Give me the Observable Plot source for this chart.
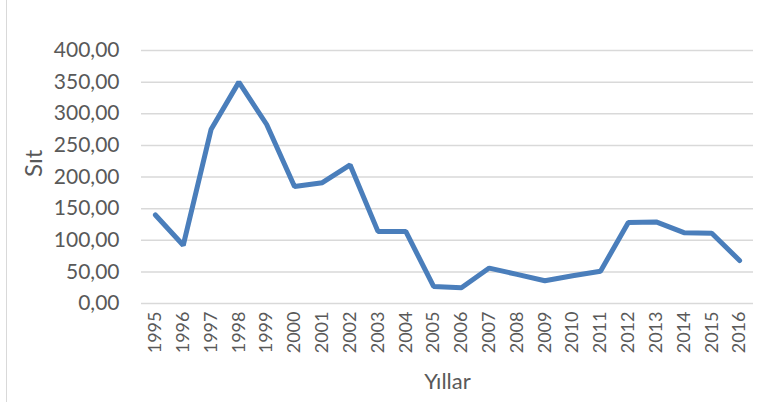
<!DOCTYPE html>
<html>
<head>
<meta charset="utf-8">
<script src="https://cdn.jsdelivr.net/npm/d3@7"></script>
<script src="https://cdn.jsdelivr.net/npm/@observablehq/plot@0.6"></script>
<style>
  html, body { margin: 0; padding: 0; background: #fff; }
  #wrap { position: relative; width: 766px; height: 402px; overflow: hidden; }
  #frame { position: absolute; left: 6px; top: 0; width: 1px; height: 402px; background: #d9d9d9; pointer-events: none; }
</style>
</head>
<body>
<div id="wrap"><div id="frame"></div></div>
<script>
const years = [1995, 1996, 1997, 1998, 1999, 2000, 2001, 2002, 2003, 2004, 2005, 2006, 2007, 2008, 2009, 2010, 2011, 2012, 2013, 2014, 2015, 2016];
const values = [140, 92, 275, 350, 283, 185, 191, 219, 114, 114, 27, 25, 56, 46, 36, 44, 51, 128, 129, 112, 111, 68];
const yTicks = [0, 50, 100, 150, 200, 250, 300, 350, 400];
const yLabel = "Sıt";
const xLabel = "Yıllar";

const data = years.map((y, i) => ({year: y, value: values[i]}));
const fmt = v => v.toFixed(2).replace(".", ",");

const chart = Plot.plot({
  width: 766,
  height: 402,
  marginLeft: 141,
  marginRight: 13,
  marginTop: 50,
  marginBottom: 99,
  style: { fontFamily: "Lato, sans-serif", color: "#595959", background: "transparent", overflow: "visible" },
  x: { type: "linear", domain: [years[0] - 0.5, years[years.length - 1] + 0.5] },
  y: { domain: [0, 400] },
  marks: [
    Plot.gridY(yTicks, { stroke: "#d9d9d9", strokeOpacity: 1, strokeWidth: 1.5 }),
    Plot.axisY(yTicks, { tickSize: 0, tickPadding: 22, tickFormat: fmt, fontSize: 21, fill: "#595959", label: null }),
    Plot.axisX(years, { tickSize: 0, tickPadding: 8, tickRotate: -90, tickFormat: d => String(d), fontSize: 18, fill: "#595959", label: null }),
    Plot.line(data, { x: "year", y: "value", stroke: "#4a7ebb", strokeWidth: 5, strokeLinejoin: "miter", strokeLinecap: "round" }),
    Plot.text([yLabel], { frameAnchor: "left", dx: -107, rotate: -90, fontSize: 24, fill: "#595959" }),
    Plot.text([xLabel], { frameAnchor: "bottom", dy: 85, fontSize: 22, fill: "#595959" })
  ]
});
document.getElementById("wrap").prepend(chart);
</script>
</body>
</html>
